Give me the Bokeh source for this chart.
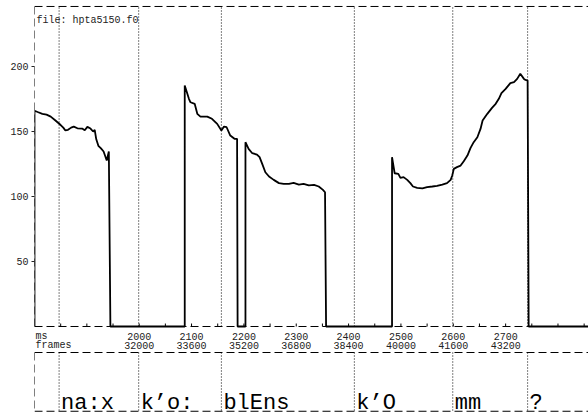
from bokeh.plotting import figure
from bokeh.models import FixedTicker
from bokeh.core.properties import value
from bokeh.embed import file_html
from bokeh.resources import INLINE

# ---------------- data ----------------
file_label = "file: hpta5150.f0"

# F0 contour (time in ms, F0 in Hz; 0 = unvoiced)
time_ms = [1800, 1800, 1806, 1815, 1823, 1831, 1840, 1850, 1855, 1859, 1864, 1870,
           1875, 1882, 1891, 1896, 1901, 1907, 1912, 1915, 1918, 1922, 1927, 1932,
           1938, 1942, 1945,
           2087, 2087, 2095, 2098, 2106, 2111, 2117, 2130, 2139, 2149, 2157, 2162,
           2167, 2174, 2182, 2187, 2188,
           2203, 2203, 2209, 2216, 2225, 2230, 2235, 2241, 2248, 2257, 2267, 2276,
           2286, 2295, 2305, 2314, 2324, 2334, 2343, 2351, 2355, 2357,
           2483, 2483, 2488, 2495, 2499, 2505, 2512, 2518, 2523, 2531, 2541, 2550,
           2560, 2569, 2579, 2588, 2595, 2598, 2601, 2607, 2614, 2620, 2627, 2633,
           2639, 2646, 2652, 2656, 2665, 2674, 2681, 2687, 2692, 2700, 2709, 2716,
           2722, 2728, 2735, 2738, 2742, 2744, 2858]
f0_hz = [0, 166, 165, 163.6, 163, 161.5, 158.5, 155, 153, 150.8, 151.3, 153,
         153.8, 152.5, 152.3, 151, 153.6, 152.3, 150, 151.3, 144, 139, 137, 134.6,
         127.7, 134.6, 0,
         0, 185.4, 175.2, 172.5, 171.3, 163.6, 161.5, 161.5, 159.8, 155.9, 150.8, 153.8,
         153.3, 146.9, 144.4, 144.4, 0,
         0, 141.8, 136.7, 133.3, 132.3, 130.3, 125.1, 118.7, 115.4, 112.8, 110.3, 109.8,
         109.8, 110.5, 109.2, 109.8, 108.5, 109, 107.7, 105.1, 103.3, 0,
         0, 130.2, 117.9, 117.4, 114.4, 114.9, 112.8, 110.3, 107.7, 106.7, 106.2, 107.2,
         107.7, 108.2, 109.2, 110.3, 112.8, 116.2, 121.3, 122.6, 123.8, 127.2, 131.5, 137.4,
         141.8, 145.6, 152, 158.5, 163.6, 168.2, 171.3, 175.2, 179.5, 182.8, 187.2, 188,
         190.5, 194.4, 190.5, 189.7, 189.2, 0, 0]

# segment boundaries (ms) and labels
bound_ms = [1847, 1999, 2157, 2411, 2599, 2742]
seg_labels = ["na:x", "k\u2019o:", "blEns", "k\u2019O", "mm", "?"]

# axis ticks
y_ticks = [50, 100, 150, 200]
ms_ticks = [2000, 2100, 2200, 2300, 2400, 2500, 2600, 2700]
frame_ticks = ["32000", "33600", "35200", "36800", "38400", "40000", "41600", "43200"]
minor_x_ticks = [1850, 1900, 1950, 2000, 2050, 2100, 2150, 2200, 2250, 2300, 2350,
                 2400, 2450, 2500, 2550, 2600, 2650, 2700, 2750, 2800, 2850]

# ---------------- layout constants ----------------
X0, X1 = 1800, 2858.3
Y_LO, Y_HI = -70.0, 250.8
Y_TOP_LINE = 246.2
TIER_TOP, TIER_BOT = -20.0, -65.2
MS_ROW, FR_ROW = -7.7, -14.6
LABEL_BASE = -59.3
FILE_Y = 235.4

MONO = value("Liberation Mono")

p = figure(width=588, height=417, x_range=(X0, X1), y_range=(Y_LO, Y_HI),
           output_backend="svg", toolbar_location=None, x_axis_location=None,
           min_border_left=34, min_border_right=0, min_border_top=0, min_border_bottom=0)
p.outline_line_color = None
p.grid.visible = False
p.background_fill_color = "white"
p.border_fill_color = "white"

ax = p.yaxis[0]
ax.ticker = FixedTicker(ticks=y_ticks, minor_ticks=[])
ax.axis_line_color = None
ax.major_tick_out = 3
ax.major_tick_in = 0
ax.minor_tick_out = 0
ax.major_label_standoff = 3
ax.major_label_text_font = "Liberation Mono"
ax.major_label_text_font_size = "10px"
ax.major_label_text_color = "#222222"
ax.major_tick_line_color = "#222222"

dash = "8 4"
# frame of upper tier
p.line([X0, X1], [Y_TOP_LINE, Y_TOP_LINE], line_color="black", line_width=1, line_dash=dash)
p.line([X0, X0], [0, Y_TOP_LINE], line_color="black", line_width=1, line_dash=dash)
p.line([X0, X1], [0, 0], line_color="black", line_width=1, line_dash=dash)
# lower tier box
p.line([X0, X1], [TIER_TOP, TIER_TOP], line_color="black", line_width=1, line_dash=dash)
p.line([X0, X1], [TIER_BOT, TIER_BOT], line_color="black", line_width=1.2, line_dash=dash)
p.line([X0, X0], [TIER_TOP, TIER_BOT], line_color="black", line_width=1, line_dash=dash)

# x minor ticks on the time axis
p.segment(x0=minor_x_ticks, y0=[0] * len(minor_x_ticks), x1=minor_x_ticks,
          y1=[2.3] * len(minor_x_ticks), line_color="black", line_width=1)

# boundary dotted lines
n = len(bound_ms)
p.segment(x0=bound_ms, y0=[0] * n, x1=bound_ms, y1=[Y_TOP_LINE] * n,
          line_color="black", line_width=1, line_dash="1 2")
p.segment(x0=bound_ms, y0=[TIER_TOP] * n, x1=bound_ms, y1=[TIER_BOT] * n,
          line_color="black", line_width=1, line_dash="1 2")

# contour
p.line(time_ms, f0_hz, line_color="black", line_width=1.8)

# tick labels of time axis
p.text(x=ms_ticks, y=[MS_ROW] * len(ms_ticks), text=[str(t) for t in ms_ticks],
       text_font=MONO, text_font_size="10px", text_align="center",
       text_baseline="middle", text_color="#222222")
p.text(x=ms_ticks, y=[FR_ROW] * len(ms_ticks), text=frame_ticks,
       text_font=MONO, text_font_size="10px", text_align="center",
       text_baseline="middle", text_color="#222222")
p.text(x=[X0, X0], y=[MS_ROW, FR_ROW], text=["ms", "frames"], x_offset=1,
       text_font=MONO, text_font_size="10px", text_align="left",
       text_baseline="middle", text_color="#222222")

# file label
p.text(x=[X0], y=[FILE_Y], text=[file_label], x_offset=2,
       text_font=MONO, text_font_size="10px", text_align="left",
       text_baseline="middle", text_color="#222222")

# segment labels
p.text(x=bound_ms, y=[LABEL_BASE] * n, text=seg_labels, x_offset=2,
       text_font=MONO, text_font_size="22px", text_align="left",
       text_baseline="alphabetic", text_color="black")

open("out.html", "w").write(file_html(p, INLINE))
